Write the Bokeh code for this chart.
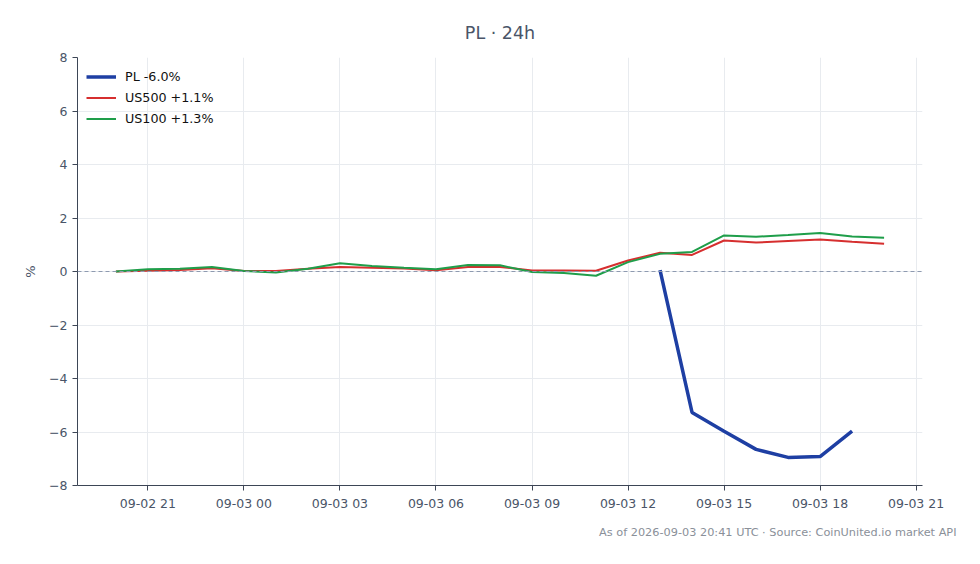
import pandas as pd
from bokeh.plotting import figure
from bokeh.models import (Span, FixedTicker, DatetimeTickFormatter, CustomJSTickFormatter,
                          Title, Range1d)
from bokeh.embed import file_html
from bokeh.resources import INLINE

# hourly timestamps, 2026-09-02 20:00 .. 2026-09-03 20:00 UTC
hours = pd.date_range("2026-09-02 20:00", "2026-09-03 20:00", freq="h")

us500 = [0.00, 0.03, 0.06, 0.12, 0.02, 0.02, 0.10, 0.17, 0.14, 0.11, 0.05, 0.17, 0.17,
         0.04, 0.04, 0.03, 0.41, 0.70, 0.62, 1.16, 1.08, 1.14, 1.20, 1.11, 1.04]
us100 = [0.00, 0.08, 0.10, 0.17, 0.02, -0.04, 0.10, 0.31, 0.21, 0.14, 0.08, 0.24, 0.23,
         -0.02, -0.06, -0.16, 0.35, 0.66, 0.73, 1.35, 1.30, 1.36, 1.44, 1.31, 1.26]

pl_hours = pd.date_range("2026-09-03 13:00", "2026-09-03 19:00", freq="h")
pl = [0.05, -5.27, -5.97, -6.65, -6.95, -6.92, -5.97]

tick_times = pd.date_range("2026-09-02 21:00", "2026-09-03 21:00", freq="3h")

TEXT = "#4a5568"

p = figure(width=964, height=548, x_axis_type="datetime",
           output_backend="svg", toolbar_location=None,
           x_range=Range1d(pd.Timestamp("2026-09-02 18:48"), pd.Timestamp("2026-09-03 21:12")),
           y_range=Range1d(-8, 8),
           min_border_left=77, min_border_right=42, min_border_top=57, min_border_bottom=62)

p.title.text = "PL · 24h"
p.title.align = "center"
p.title.text_font = "DejaVu Sans"
p.title.text_font_size = "17.5px"
p.title.text_font_style = "normal"
p.title.text_color = TEXT
p.title.standoff = 29

p.line(pl_hours, pl, line_color="#1e3fa3", line_width=3.5, legend_label="PL -6.0%")
p.line(hours, us500, line_color="#d62f2f", line_width=2, legend_label="US500 +1.1%")
p.line(hours, us100, line_color="#1f9e4a", line_width=2, legend_label="US100 +1.3%")

p.add_layout(Span(location=0, dimension="width", line_color="#8e9ab0",
                  line_dash="4 3", line_width=1))

p.xaxis.ticker = FixedTicker(ticks=[t.value // 10**6 for t in tick_times])
p.xaxis.formatter = DatetimeTickFormatter(hours="%m-%d %H", days="%m-%d %H",
                                          minutes="%m-%d %H")
p.yaxis.ticker = FixedTicker(ticks=list(range(-8, 9, 2)))
p.yaxis.formatter = CustomJSTickFormatter(code="return String(tick).replace('-', '\u2212');")
p.yaxis.axis_label = "%"
p.yaxis.axis_label_standoff = 8

for ax in (p.xaxis, p.yaxis):
    ax.axis_line_color = "#3d4656"
    ax.major_tick_line_color = "#3d4656"
    ax.minor_tick_line_color = None
    ax.major_tick_out = 5
    ax.major_tick_in = 0
    ax.major_label_text_font = "DejaVu Sans"
    ax.major_label_text_font_size = "12.5px"
    ax.major_label_text_color = TEXT
    ax.axis_label_text_font = "DejaVu Sans"
    ax.axis_label_text_font_style = "normal"
    ax.axis_label_text_font_size = "13px"
    ax.axis_label_text_color = TEXT

p.xgrid.grid_line_color = "#e8ebef"
p.ygrid.grid_line_color = "#e8ebef"
p.outline_line_color = None

p.legend.location = "top_left"
p.legend.background_fill_alpha = 0
p.legend.border_line_color = None
p.legend.label_text_font = "DejaVu Sans"
p.legend.label_text_font_size = "12.7px"
p.legend.label_text_color = "#111111"
p.legend.glyph_width = 30
p.legend.label_standoff = 9
p.legend.spacing = 0
p.legend.label_height = 21
p.legend.glyph_height = 21
p.legend.padding = 6
p.legend.margin = 9

footer = Title(text="As of 2026-09-03 20:41 UTC · Source: CoinUnited.io market API",
               align="right", text_font="DejaVu Sans", text_font_size="11.3px",
               text_font_style="normal", text_color="#8a9099", offset=-34, standoff=20)
p.add_layout(footer, "below")

open("out.html", "w").write(file_html(p, INLINE))
